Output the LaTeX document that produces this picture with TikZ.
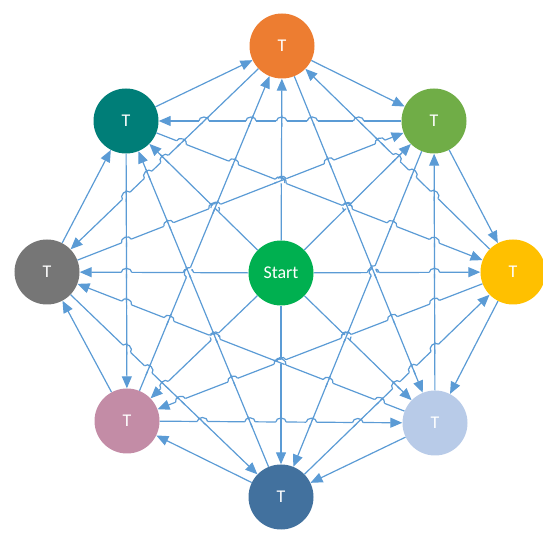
\documentclass[tikz,border=0pt]{standalone}
\usepackage{fontspec}
\setmainfont{Carlito}
\usetikzlibrary{arrows.meta,intersections}
\definecolor{linkblue}{RGB}{91,155,213}
\definecolor{tOrange}{RGB}{237,125,49}
\definecolor{tGreen}{RGB}{112,173,71}
\definecolor{tYellow}{RGB}{255,192,0}
\definecolor{tSky}{RGB}{184,203,232}
\definecolor{tNavy}{RGB}{66,113,158}
\definecolor{tRose}{RGB}{195,140,166}
\definecolor{tGray}{RGB}{118,118,118}
\definecolor{tTeal}{RGB}{0,126,120}
\definecolor{tStart}{RGB}{0,176,80}
\tikzstyle{Task}=[minimum size=65bp, inner sep=0pt, shape=circle, text=white, font=\fontsize{18}{20}\selectfont]
\tikzstyle{Begin}=[Task, fill=tStart]
\tikzstyle{link}=[draw=linkblue, line width=1.2bp, -{Triangle[length=12bp,width=10bp]}]
\tikzstyle{hop}=[draw=linkblue, line width=1.2bp]
\tikzstyle{gap}=[draw=white, line width=3.2bp]
\pgfdeclarelayer{edgelayer}
\pgfdeclarelayer{nodelayer}
\pgfsetlayers{edgelayer,main,nodelayer}

\begin{document}
\begin{tikzpicture}[x=1bp, y=1bp]
	\useasboundingbox (0,0) rectangle (543,547);
	\begin{pgfonlayer}{nodelayer}
		\node [style=Begin] (start) at (281,274) {Start};
		\node [style=Task, fill=tOrange] (n) at (282,501) {T};
		\node [style=Task, fill=tGreen] (ne) at (434,426) {T};
		\node [style=Task, fill=tYellow] (e) at (513,275) {T};
		\node [style=Task, fill=tSky] (se) at (435,124) {T};
		\node [style=Task, fill=tNavy] (s) at (281,50) {T};
		\node [style=Task, fill=tRose] (sw) at (127,126) {T};
		\node [style=Task, fill=tGray] (w) at (47,275) {T};
		\node [style=Task, fill=tTeal] (nw) at (126,426) {T};
	\end{pgfonlayer}
	\begin{pgfonlayer}{edgelayer}
		% every link, with its slope kept for the hops
		\foreach \src/\dst [count=\k] in {start/n, start/ne, start/e, start/se, start/s, start/sw, start/w, start/nw,
				n/ne, e/n, n/se, sw/n, n/w, nw/n, ne/e, se/ne, ne/s, w/ne, ne/nw,
				e/se, s/e, e/sw, nw/e, se/s, sw/se, se/w, s/sw, w/s, s/nw, sw/w, nw/sw, w/nw} {
			\draw [style=link, name path global=c\k] (\src) -- (\dst);
			\pgfpointdiff{\pgfpointanchor{\src}{center}}{\pgfpointanchor{\dst}{center}}
			\pgfgetlastxy{\dx}{\dy}
			\pgfmathsetmacro\st{abs(\dy)/(abs(\dx)+abs(\dy))}
			\pgfmathsetmacro\an{atan2(\dy,\dx)}
			\pgfmathsetmacro\an{\an>90 ? \an-180 : (\an<=-90 ? \an+180 : \an)}
			\expandafter\xdef\csname lst\k\endcsname{\st}
			\expandafter\xdef\csname lan\k\endcsname{\an}
		}

		% line hops: the flatter link jumps over the steeper one
		\foreach \i in {1,...,31} {
			\pgfmathtruncatemacro\first{\i+1}
			\foreach \j in {\first,...,32} {
				\path [name intersections={of={c\i} and {c\j}, total=\t}] \pgfextra{\xdef\hits{\t}};
				\ifnum\hits>0
					\pgfmathtruncatemacro\flat{\csname lst\i\endcsname < \csname lst\j\endcsname ? 1 : 0}
					\ifnum\flat=1 \def\h{\i}\def\v{\j}\else\def\h{\j}\def\v{\i}\fi
					\begin{scope}[shift={(intersection-1)}, rotate=\csname lan\h\endcsname]
						\draw [style=gap] (-5.2,0) -- (5.2,0);
					\end{scope}
					\begin{scope}[shift={(intersection-1)}, rotate=\csname lan\v\endcsname]
						\draw [style=hop] (-6,0) -- (6,0);
					\end{scope}
					\begin{scope}[shift={(intersection-1)}, rotate=\csname lan\h\endcsname]
						\draw [style=hop] (-5.2,0) arc [start angle=180, end angle=0, x radius=5.2bp, y radius=4bp];
					\end{scope}
				\fi
			}
		}
	\end{pgfonlayer}
\end{tikzpicture}
\end{document}
